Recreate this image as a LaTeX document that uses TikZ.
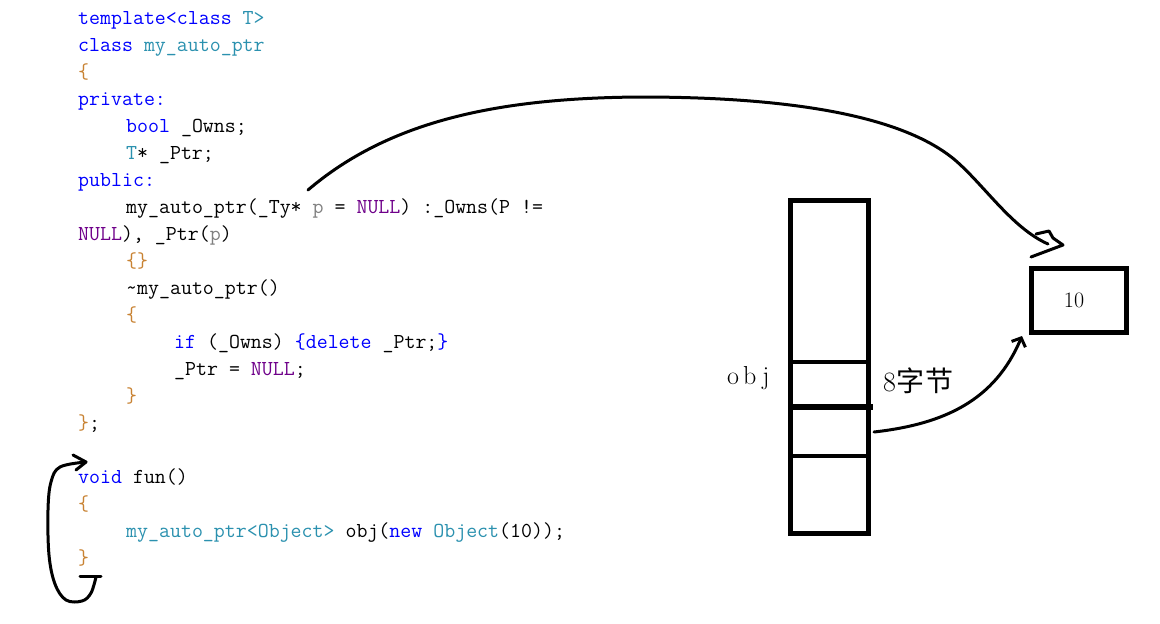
\documentclass[tikz,border=0pt]{standalone}
\usepackage{fontspec}
\newfontfamily\cjkfont{Noto Sans CJK SC}
\usetikzlibrary{arrows.meta}
\definecolor{kwc}{RGB}{0,0,255}
\definecolor{tyc}{RGB}{43,145,175}
\definecolor{brc}{RGB}{200,130,50}
\definecolor{nuc}{RGB}{111,0,138}
\definecolor{pac}{RGB}{128,128,128}
\newcommand\ckw[1]{\textcolor{kwc}{#1}}
\newcommand\cty[1]{\textcolor{tyc}{#1}}
\newcommand\cbr[1]{\textcolor{brc}{#1}}
\newcommand\cnu[1]{\textcolor{nuc}{#1}}
\newcommand\cpa[1]{\textcolor{pac}{#1}}
\begin{document}
\begin{tikzpicture}[x=1pt,y=-1pt,
  code/.style={anchor=base west, inner sep=0pt, font=\fontsize{21.3}{24}\selectfont\ttfamily},
  pen/.style={line width=3pt, line cap=round, line join=round},
  box/.style={draw, line width=5pt, inner sep=0pt, outer sep=0pt},
  lbl/.style={anchor=base west, inner sep=0pt}]
\useasboundingbox[fill=white] (0,0) rectangle (1160,624);

% code
\node[code] (c0) at (78,24) {\ckw{template<class} \cty{T>}};
\node[code] (c1) at (78,51) {\ckw{class} \cty{my\_auto\_ptr}};
\node[code] (c2) at (78,78) {\cbr{\{}};
\node[code] (c3) at (78,105) {\ckw{private:}};
\node[code] (c4) at (126,132) {\ckw{bool} \_Owns;};
\node[code] (c5) at (126,159) {\cty{T}* \_Ptr;};
\node[code] (c6) at (78,186) {\ckw{public:}};
\node[code] (c7) at (126,213) {my\_auto\_ptr(\_Ty* \cpa{p} = \cnu{NULL}) :\_Owns(P !=};
\node[code] (c8) at (78,240) {\cnu{NULL}), \_Ptr(\cpa{p})};
\node[code] (c9) at (126,267) {\cbr{\{\}}};
\node[code] (c10) at (126,294) {\textasciitilde my\_auto\_ptr()};
\node[code] (c11) at (126,321) {\cbr{\{}};
\node[code] (c12) at (174,348) {\ckw{if} (\_Owns) \ckw{\{delete} \_Ptr;\ckw{\}}};
\node[code] (c13) at (174,375) {\_Ptr = \cnu{NULL};};
\node[code] (c14) at (126,402) {\cbr{\}}};
\node[code] (c15) at (78,429) {\cbr{\}};};
\node[code] (c17) at (78,483) {\ckw{void} fun()};
\node[code] (c18) at (78,510) {\cbr{\{}};
\node[code] (c19) at (126,537) {\cty{my\_auto\_ptr<Object>} obj(\ckw{new} \cty{Object}(10));};
\node[code] (c20) at (78,564) {\cbr{\}}};

% memory column
\node[box, minimum width=78pt, minimum height=333pt] (mem) at (829,366.5) {};
\draw[line width=4pt] (790,362) -- (868,362);
\draw[line width=6pt] (790,407) -- (873,407);
\draw[line width=4pt] (790,456) -- (868,456);
\node[lbl, font=\fontsize{26}{30}\selectfont] (objl) at (727,384) {o\kern4pt b\kern6pt j};
\node[lbl, font=\fontsize{28}{32}\selectfont] (bytes) at (883,391) {8{\cjkfont\fontsize{28}{32}\selectfont 字\kern1pt 节}};

% heap box
\node[box, minimum width=95pt, minimum height=64pt, font=\fontsize{22}{26}\selectfont] (ten) at (1078.5,300) {10\kern9pt};

% arrow from obj pointer to heap box
\coordinate (a2s) at (874,432);
\coordinate (a2e) at (1022,336);
\draw[pen, -{Straight Barb[length=7pt,width=15pt]}] (a2s) .. controls (945,424) and (995,400) .. (a2e);

% big curve from constructor parameter p
\coordinate (a1s) at (308,190);
\coordinate (a1e) at (1048,244);
\draw[pen] (a1s) .. controls (390,120) and (500,98) .. (640,97)
  .. controls (800,97) and (905,118) .. (955,160)
  .. controls (985,186) and (1012,228) .. (a1e);
\draw[pen] (1036,234) -- (1049,231) -- (1053,238) -- (1063,245) -- (1031,257);

% loop arrow around fun()
\coordinate (lb) at (96,577);
\coordinate (lt) at (86,462);
\draw[pen] (80,576) -- (101,576);
\draw[pen] plot[smooth, tension=0.6] coordinates {(lb) (91,593) (82,601) (66,600) (55,584) (49,555) (48,510) (51,482) (60,467) (lt)};
\draw[pen] (73,455) -- (lt) -- (76,470);
\end{tikzpicture}
\end{document}
